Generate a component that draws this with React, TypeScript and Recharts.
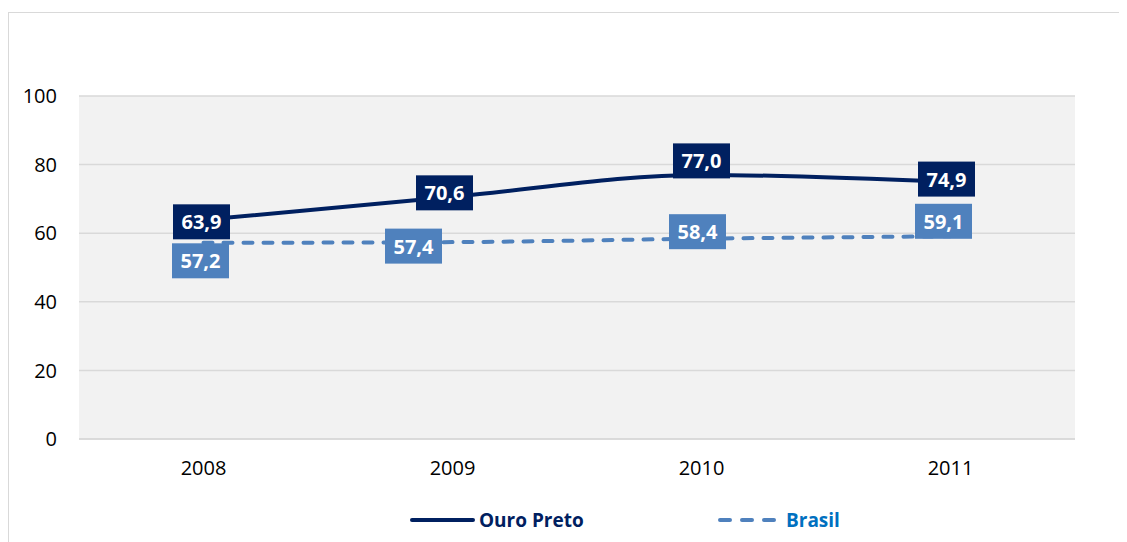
import React from 'react';
import { ComposedChart, Line, XAxis, YAxis, CartesianGrid, LabelList } from 'recharts';

const years = ['2008', '2009', '2010', '2011'];
const ouroPreto = [63.9, 70.6, 77.0, 74.9];
const brasil = [57.2, 57.4, 58.4, 59.1];
const yTicks = [0, 20, 40, 60, 80, 100];

const data = years.map((year, i) => ({ year, ouroPreto: ouroPreto[i], brasil: brasil[i] }));

// label box nudges (px), per point
const OURO_OFFSETS = [[-2, 2], [-8, -4], [0, -14], [-4, -3]];
const BRASIL_OFFSETS = [[-3, 18], [-39, 4], [-4, -7], [-7, -15]];

const NAVY = '#002060';
const BLUE = '#4f81bd';
const FONT = '"Open Sans", "Liberation Sans", sans-serif';

const boxLabel = (fill: string, offsets: number[][]) => (props: any) => {
  const { x, y, value, index } = props;
  const [dx, dy] = offsets[index] || [0, 0];
  const cx = x + dx;
  const cy = y + dy;
  const w = 57;
  const h = 35;
  return (
    <g>
      <rect x={cx - w / 2} y={cy - h / 2} width={w} height={h} fill={fill} />
      <text
        x={cx}
        y={cy}
        textAnchor="middle"
        dominantBaseline="central"
        fill="#fff"
        fontWeight="bold"
        fontSize={20}
        fontFamily={FONT}
      >
        {Number(value).toFixed(1).replace('.', ',')}
      </text>
    </g>
  );
};

const ChartLegend = () => (
  <div style={{ position: 'absolute', left: 0, top: 494, width: 1118, height: 30, fontFamily: FONT, fontWeight: 'bold', fontSize: 19 }}>
    <div style={{ position: 'absolute', left: 401, top: 0, display: 'flex', alignItems: 'center' }}>
      <svg width={66} height={10}>
        <line x1={2} y1={5} x2={63} y2={5} stroke={NAVY} strokeWidth={4} strokeLinecap="round" />
      </svg>
      <span style={{ color: NAVY, marginLeft: 3 }}>Ouro Preto</span>
    </div>
    <div style={{ position: 'absolute', left: 709, top: 0, display: 'flex', alignItems: 'center' }}>
      <svg width={62} height={10}>
        <line x1={2} y1={5} x2={60} y2={5} stroke={BLUE} strokeWidth={4} strokeLinecap="round" strokeDasharray="10 12" />
      </svg>
      <span style={{ color: '#0070c0', marginLeft: 6 }}>Brasil</span>
    </div>
  </div>
);

export default function App() {
  return (
    <div
      style={{
        position: 'relative',
        marginTop: 4,
        width: 1140,
        height: 560,
        border: '1px solid #d9d9d9',
        background: '#fff',
        boxSizing: 'border-box',
      }}
    >
      <style>{`body{overflow:hidden}`}</style>
      <ComposedChart
        width={1118}
        height={530}
        data={data}
        margin={{ top: 83, right: 52, bottom: 74, left: 0 }}
      >
        <CartesianGrid vertical={false} stroke="#d9d9d9" strokeWidth={1.5} fill="#f2f2f2" />
        <XAxis
          dataKey="year"
          scale="band"
          height={30}
          tickLine={false}
          tickSize={0}
          tickMargin={22}
          axisLine={{ stroke: '#d9d9d9', strokeWidth: 1.5 }}
          tick={{ fill: '#000', fontSize: 20, fontFamily: FONT }}
        />
        <YAxis
          width={70}
          domain={[0, 100]}
          ticks={yTicks}
          axisLine={false}
          tickLine={false}
          tickSize={0}
          tickMargin={22}
          tick={{ fill: '#000', fontSize: 20, fontFamily: FONT }}
        />
        <Line
          type="monotone"
          dataKey="brasil"
          stroke={BLUE}
          strokeWidth={4}
          strokeDasharray="9 11"
          strokeLinecap="round"
          dot={false}
          isAnimationActive={false}
        >
          <LabelList dataKey="brasil" content={boxLabel(BLUE, BRASIL_OFFSETS)} />
        </Line>
        <Line
          type="monotone"
          dataKey="ouroPreto"
          stroke={NAVY}
          strokeWidth={4}
          dot={false}
          isAnimationActive={false}
        >
          <LabelList dataKey="ouroPreto" content={boxLabel(NAVY, OURO_OFFSETS)} />
        </Line>
      </ComposedChart>
      <ChartLegend />
    </div>
  );
}
